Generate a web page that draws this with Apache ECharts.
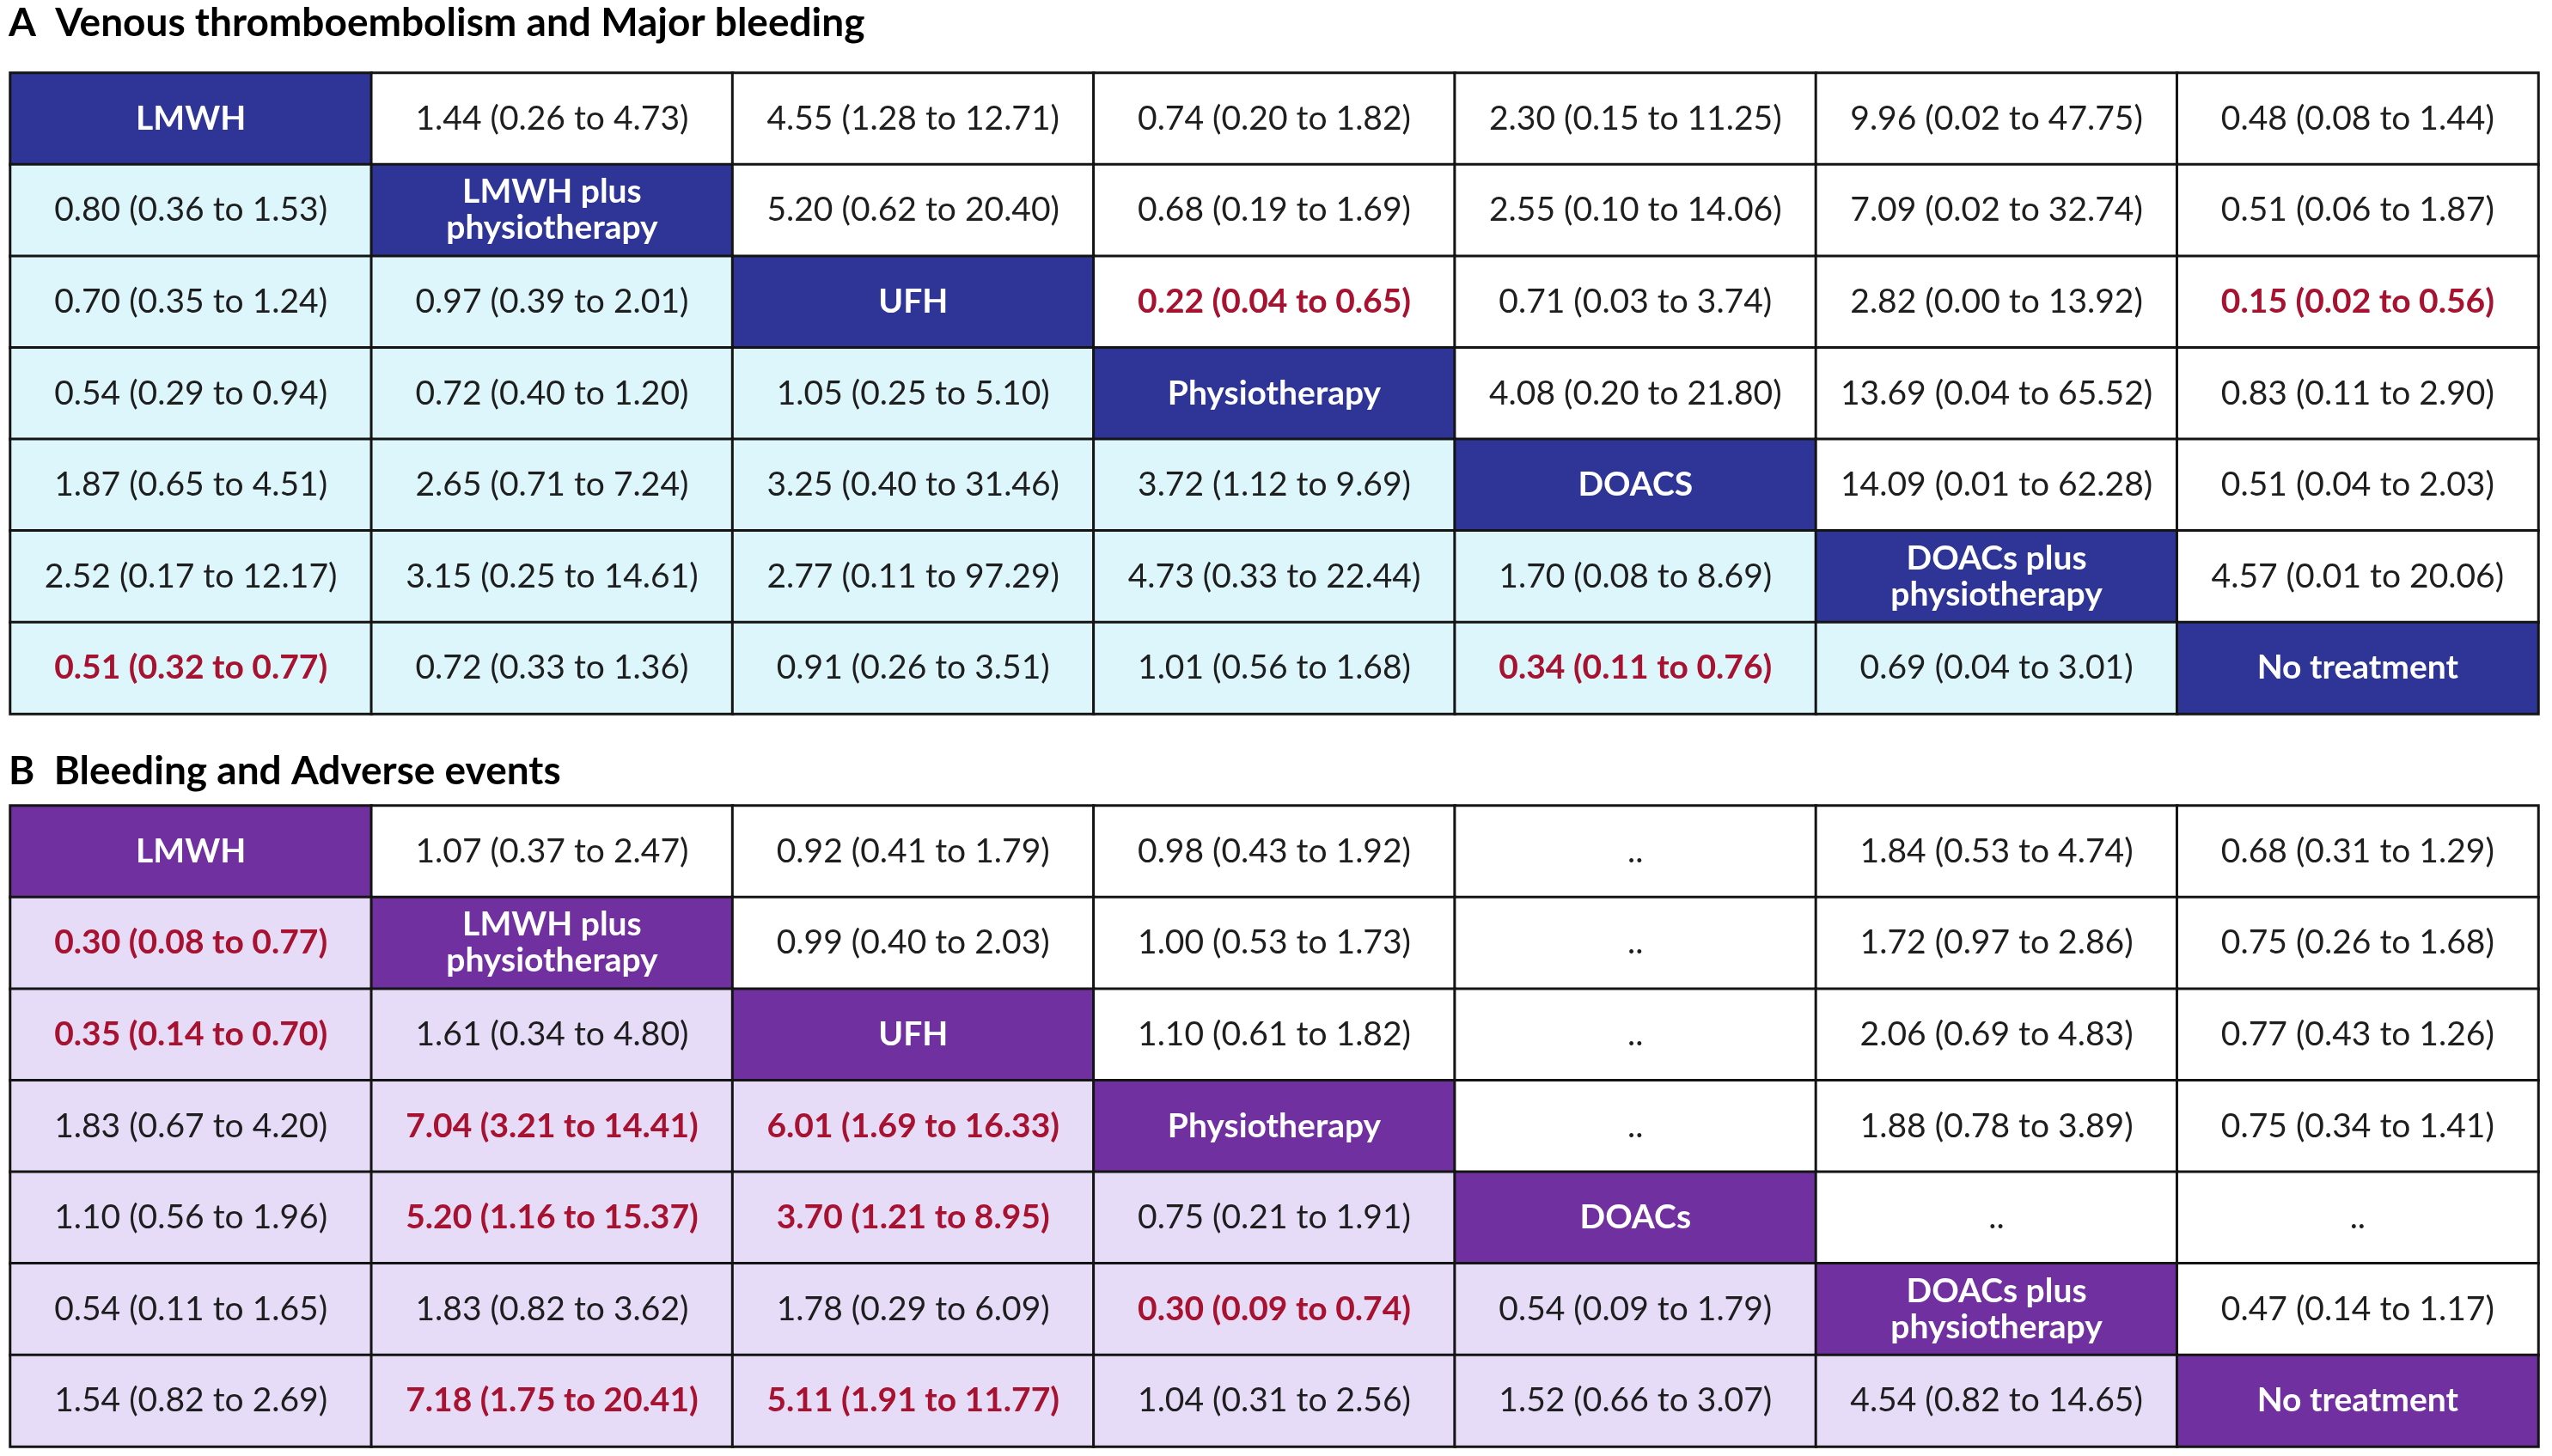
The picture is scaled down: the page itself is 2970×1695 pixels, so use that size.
<!DOCTYPE html>
<html>
<head>
<meta charset="utf-8">
<script src="https://cdn.jsdelivr.net/npm/echarts@6/dist/echarts.min.js"></script>
<style>
  html, body { margin: 0; padding: 0; background: #fff; }
  #chart { width: 2970px; height: 1695px; }
</style>
</head>
<body>
<div id="chart"></div>
<script>
'use strict';

// treatment labels (diagonal cells)
var treatsA = ['LMWH', 'LMWH plus\nphysiotherapy', 'UFH', 'Physiotherapy', 'DOACS', 'DOACs plus\nphysiotherapy', 'No treatment'];
var treatsB = ['LMWH', 'LMWH plus\nphysiotherapy', 'UFH', 'Physiotherapy', 'DOACs', 'DOACs plus\nphysiotherapy', 'No treatment'];

// A: venous thromboembolism (lower-left) and major bleeding (upper-right)
var cellsA = [
  ['', '1.44 (0.26 to 4.73)', '4.55 (1.28 to 12.71)', '0.74 (0.20 to 1.82)', '2.30 (0.15 to 11.25)', '9.96 (0.02 to 47.75)', '0.48 (0.08 to 1.44)'],
  ['0.80 (0.36 to 1.53)', '', '5.20 (0.62 to 20.40)', '0.68 (0.19 to 1.69)', '2.55 (0.10 to 14.06)', '7.09 (0.02 to 32.74)', '0.51 (0.06 to 1.87)'],
  ['0.70 (0.35 to 1.24)', '0.97 (0.39 to 2.01)', '', '0.22 (0.04 to 0.65)', '0.71 (0.03 to 3.74)', '2.82 (0.00 to 13.92)', '0.15 (0.02 to 0.56)'],
  ['0.54 (0.29 to 0.94)', '0.72 (0.40 to 1.20)', '1.05 (0.25 to 5.10)', '', '4.08 (0.20 to 21.80)', '13.69 (0.04 to 65.52)', '0.83 (0.11 to 2.90)'],
  ['1.87 (0.65 to 4.51)', '2.65 (0.71 to 7.24)', '3.25 (0.40 to 31.46)', '3.72 (1.12 to 9.69)', '', '14.09 (0.01 to 62.28)', '0.51 (0.04 to 2.03)'],
  ['2.52 (0.17 to 12.17)', '3.15 (0.25 to 14.61)', '2.77 (0.11 to 97.29)', '4.73 (0.33 to 22.44)', '1.70 (0.08 to 8.69)', '', '4.57 (0.01 to 20.06)'],
  ['0.51 (0.32 to 0.77)', '0.72 (0.33 to 1.36)', '0.91 (0.26 to 3.51)', '1.01 (0.56 to 1.68)', '0.34 (0.11 to 0.76)', '0.69 (0.04 to 3.01)', '']
];
// significant cells [row, col]
var sigA = [[2, 3], [2, 6], [6, 0], [6, 4]];

// B: bleeding (lower-left) and adverse events (upper-right)
var cellsB = [
  ['', '1.07 (0.37 to 2.47)', '0.92 (0.41 to 1.79)', '0.98 (0.43 to 1.92)', '..', '1.84 (0.53 to 4.74)', '0.68 (0.31 to 1.29)'],
  ['0.30 (0.08 to 0.77)', '', '0.99 (0.40 to 2.03)', '1.00 (0.53 to 1.73)', '..', '1.72 (0.97 to 2.86)', '0.75 (0.26 to 1.68)'],
  ['0.35 (0.14 to 0.70)', '1.61 (0.34 to 4.80)', '', '1.10 (0.61 to 1.82)', '..', '2.06 (0.69 to 4.83)', '0.77 (0.43 to 1.26)'],
  ['1.83 (0.67 to 4.20)', '7.04 (3.21 to 14.41)', '6.01 (1.69 to 16.33)', '', '..', '1.88 (0.78 to 3.89)', '0.75 (0.34 to 1.41)'],
  ['1.10 (0.56 to 1.96)', '5.20 (1.16 to 15.37)', '3.70 (1.21 to 8.95)', '0.75 (0.21 to 1.91)', '', '..', '..'],
  ['0.54 (0.11 to 1.65)', '1.83 (0.82 to 3.62)', '1.78 (0.29 to 6.09)', '0.30 (0.09 to 0.74)', '0.54 (0.09 to 1.79)', '', '0.47 (0.14 to 1.17)'],
  ['1.54 (0.82 to 2.69)', '7.18 (1.75 to 20.41)', '5.11 (1.91 to 11.77)', '1.04 (0.31 to 2.56)', '1.52 (0.66 to 3.07)', '4.54 (0.82 to 14.65)', '']
];
var sigB = [[1, 0], [2, 0], [3, 1], [3, 2], [4, 1], [4, 2], [5, 3], [6, 1], [6, 2]];

var cols = ['c1', 'c2', 'c3', 'c4', 'c5', 'c6', 'c7'];

var FONT = 'Lato';
var RED = '#A6122F';

function isSig(sig, r, c) {
  for (var i = 0; i < sig.length; i++) {
    if (sig[i][0] === r && sig[i][1] === c) return true;
  }
  return false;
}

function buildData(cells, treats, sig, headColor, lowColor) {
  var out = [];
  for (var r = 0; r < cells.length; r++) {
    for (var c = 0; c < cells[r].length; c++) {
      var diag = r === c;
      var item = {
        value: [c, r, 1],
        name: diag ? treats[r] : cells[r][c],
        itemStyle: { color: diag ? headColor : (c < r ? lowColor : '#ffffff') },
        label: {}
      };
      if (diag) {
        item.label = { color: '#ffffff', fontWeight: 'bold' };
      } else if (isSig(sig, r, c)) {
        item.label = { color: RED, fontWeight: 'bold' };
      }
      out.push(item);
    }
  }
  return out;
}

function heat(idx, data) {
  return {
    type: 'heatmap',
    xAxisIndex: idx,
    yAxisIndex: idx,
    data: data,
    animation: false,
    itemStyle: { borderColor: '#141414', borderWidth: 3 },
    label: {
      show: true,
      formatter: function(p) { return p.name; },
      fontFamily: FONT,
      fontSize: 39,
      lineHeight: 42,
      color: '#1e1e1e'
    },
    emphasis: { disabled: true }
  };
}

function xAx(idx) {
  return { type: 'category', gridIndex: idx, data: cols, show: false };
}
function yAx(idx) {
  return { type: 'category', gridIndex: idx, data: cols, inverse: true, show: false };
}

var chart = echarts.init(document.getElementById('chart'));
chart.setOption({
  backgroundColor: '#ffffff',
  title: [
    {
      text: 'A  Venous thromboembolism and Major bleeding',
      left: 10, top: 0, padding: 0,
      textStyle: { fontFamily: FONT, fontSize: 46, fontWeight: 'bold', color: '#000', lineHeight: 54 }
    },
    {
      text: 'B  Bleeding and Adverse events',
      left: 10, top: 871, padding: 0,
      textStyle: { fontFamily: FONT, fontSize: 46, fontWeight: 'bold', color: '#000', lineHeight: 54 }
    }
  ],
  grid: [
    { left: 12, top: 85, width: 2942, height: 746 },
    { left: 12, top: 938, width: 2942, height: 746 }
  ],
  xAxis: [xAx(0), xAx(1)],
  yAxis: [yAx(0), yAx(1)],
  series: [
    heat(0, buildData(cellsA, treatsA, sigA, '#2E3596', '#DDF6FB')),
    heat(1, buildData(cellsB, treatsB, sigB, '#7030A0', '#E6DCF8'))
  ]
});
</script>
</body>
</html>
